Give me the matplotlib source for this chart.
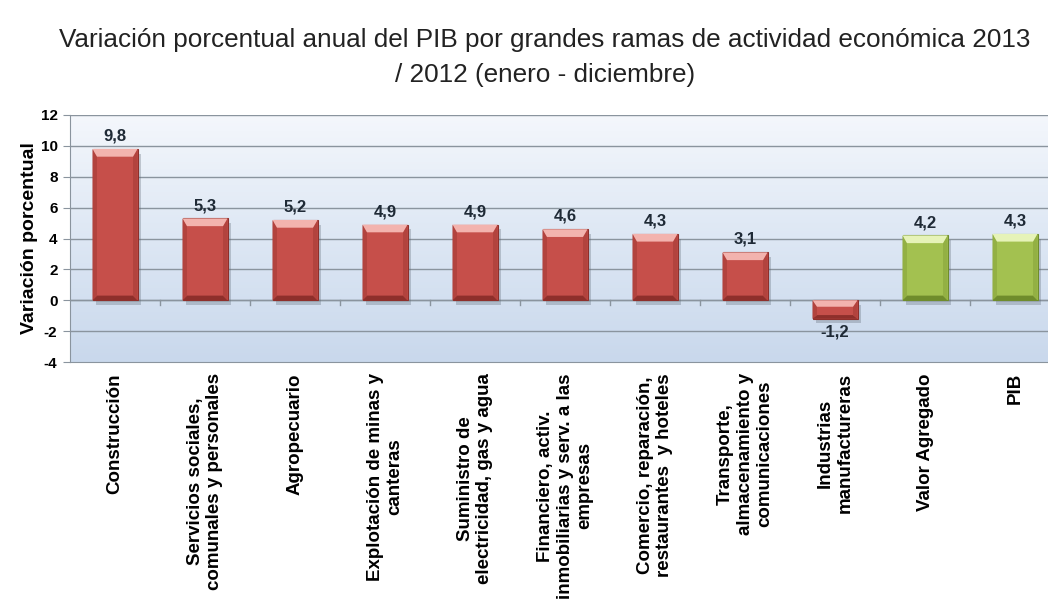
import numpy as np
import matplotlib
matplotlib.use("Agg")
from matplotlib import pyplot as plt
from matplotlib.patches import Polygon, Rectangle

plt.rcParams['font.family'] = ['Liberation Sans', 'DejaVu Sans']

ramas = ["Construcción",
         "Servicios sociales,\ncomunales y personales",
         "Agropecuario",
         "Explotación de minas y\ncanteras",
         "Suministro de\nelectricidad, gas y agua",
         "Financiero, activ.\ninmobiliarias y serv. a las\nempresas",
         "Comercio, reparación,\nrestaurantes  y hoteles",
         "Transporte,\nalmacenamiento y\ncomunicaciones",
         "Industrias\nmanufactureras",
         "Valor Agregado",
         "PIB"]
variacion = [9.8, 5.3, 5.2, 4.9, 4.9, 4.6, 4.3, 3.1, -1.2, 4.2, 4.3]
es_total = [False] * 9 + [True, True]
yticks = [-4, -2, 0, 2, 4, 6, 8, 10, 12]

fig = plt.figure(figsize=(10.48, 6.08), dpi=100)
ax = fig.add_axes([70 / 1048, 1 - 362 / 608, 990 / 1048, 247 / 608])

# fondo degradado
grad = np.linspace(0, 1, 256).reshape(-1, 1)
cmap = matplotlib.colors.LinearSegmentedColormap.from_list(
    'fondo', ['#c9d8ec', '#dde7f4', '#f4f7fc'])
ax.imshow(grad, extent=(-0.5, 10.5, -4, 12), origin='lower', aspect='auto',
          cmap=cmap, zorder=0)

for y in yticks[1:]:
    ax.axhline(y, color='#8a949e', lw=1.0, zorder=1)
ax.axhline(0, color='#8a949e', lw=1.0, zorder=1)
for b in np.arange(0.5, 10.5, 1):
    ax.plot([b, b], [-0.3, 0], color='#8a949e', lw=1.0, zorder=1)

x = np.arange(len(variacion))
w = 0.5
bx = 0.05                 # grosor del bisel lateral
by_top, by_bot = 0.5, 0.3  # grosor del bisel arriba / abajo
for xi, v, tot in zip(x, variacion, es_total):
    cara = '#a3c150' if tot else '#c64f4a'
    oscuro = '#6f8c2c' if tot else '#8e2f2b'
    lado = '#93b044' if tot else '#b2433e'
    brillo = '#e6f3b8' if tot else '#f3b3ae'
    bot, top = min(0, v), max(0, v)
    x0, x1 = xi - w / 2, xi + w / 2
    # sombra
    ax.add_patch(Rectangle((x0 + 0.04, bot - 0.3), w, top - bot,
                 facecolor='#5a6470', alpha=0.3, lw=0, zorder=2))
    ax.bar(xi, v, width=w, color=cara, edgecolor=oscuro, lw=0.8, zorder=3)
    et = min(by_top, (top - bot) * 0.35)
    eb = min(by_bot, (top - bot) * 0.2)
    # bisel: arriba claro, lados y abajo oscuros
    ax.add_patch(Polygon([(x0, bot), (x1, bot), (x1 - bx, bot + eb), (x0 + bx, bot + eb)],
                 closed=True, facecolor=oscuro, edgecolor='none', zorder=4))
    ax.add_patch(Polygon([(x0, top), (x0 + bx, top - et), (x0 + bx, bot + eb), (x0, bot)],
                 closed=True, facecolor=lado, edgecolor='none', zorder=4))
    ax.add_patch(Polygon([(x1, top), (x1 - bx, top - et), (x1 - bx, bot + eb), (x1, bot)],
                 closed=True, facecolor=lado, edgecolor='none', zorder=4))
    ax.add_patch(Polygon([(x0, top), (x1, top), (x1 - bx, top - et), (x0 + bx, top - et)],
                 closed=True, facecolor=brillo, edgecolor='none', zorder=4))
    etiqueta = f"{v:.1f}".replace('.', ',')
    if v >= 0:
        ax.text(xi, v + 0.35, etiqueta, ha='center', va='bottom',
                fontsize=12, fontweight='bold', color='#1f2a36', zorder=5)
    else:
        ax.text(xi, v - 0.35, etiqueta, ha='center', va='top',
                fontsize=12, fontweight='bold', color='#1f2a36', zorder=5)

ax.set_xlim(-0.5, 10.5)
ax.set_ylim(-4, 12)
ax.set_yticks(yticks)
ax.set_yticklabels([str(t) for t in yticks], fontsize=11, fontweight='bold')
ax.set_xticks(x)
ax.set_xticklabels(ramas, rotation=90, fontsize=13.5, fontweight='bold',
                   va='top', ha='center', multialignment='center')
ax.tick_params(axis='x', length=0, pad=8)
ax.tick_params(axis='y', length=5, color='#8a949e', pad=4)
for s in ['top', 'right']:
    ax.spines[s].set_visible(False)
ax.spines['left'].set_color('#8a949e')
ax.spines['bottom'].set_color('#8a949e')
ax.set_ylabel('Variación porcentual', fontsize=14, fontweight='bold', labelpad=2)

fig.text(0.52, 1 - 40 / 608, 'Variación porcentual anual del PIB por grandes ramas de actividad económica 2013',
         ha='center', va='center', fontsize=18.8, color='#222222')
fig.text(0.52, 1 - 75 / 608, '/ 2012 (enero - diciembre)',
         ha='center', va='center', fontsize=18.8, color='#222222')

fig.savefig('out.png', dpi=100)
